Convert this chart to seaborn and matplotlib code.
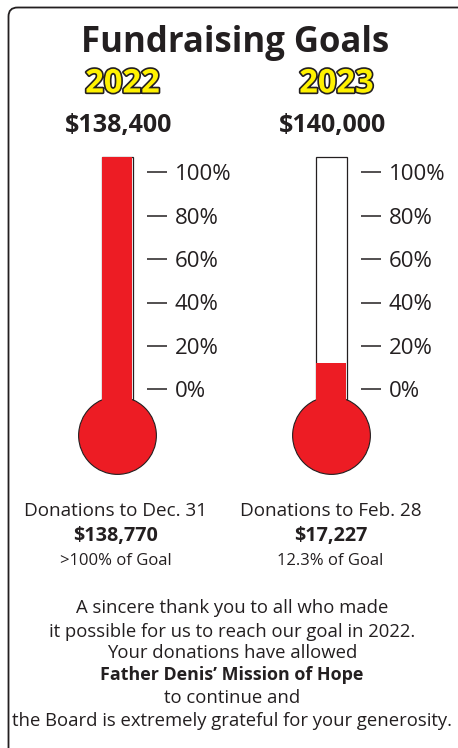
"""
Fundraising goals thermometer poster (2022 / 2023)
"""

import numpy as np
import matplotlib
matplotlib.use("Agg")
import matplotlib.pyplot as plt
import matplotlib.patheffects as pe
from matplotlib.patches import FancyBboxPatch
import seaborn as sns

# --- data ---
years = ['2022', '2023']
goals = [138400, 140000]
raised = [138770, 17227]
through = ['Dec. 31', 'Feb. 28']
goal_notes = ['>100% of Goal', '12.3% of Goal']
tick_pcts = [0, 20, 40, 60, 80, 100]
message = [
    "A sincere thank you to all who made",
    "it possible for us to reach our goal in 2022.",
    "Your donations have allowed",
    "Father Denis\u2019 Mission of Hope",
    "to continue and",
    "the Board is extremely grateful for your generosity.",
]
bold_lines = [3]

RED = '#ED1C24'
DARK = '#231F20'
YELLOW = '#FFF200'

W, H = 458, 748
sns.set_theme(style='white')
plt.rcParams['font.family'] = ['Open Sans', 'DejaVu Sans']

fig = plt.figure(figsize=(W / 100, H / 100), dpi=100)
bg = fig.add_axes([0, 0, 1, 1])
bg.set_xlim(0, W)
bg.set_ylim(H, 0)
bg.axis('off')

# rounded border (runs off the right/bottom edge)
bg.add_patch(FancyBboxPatch((8.5, 7.5), 460, 760, boxstyle='round,pad=0,rounding_size=9',
                            facecolor='none', edgecolor=DARK, linewidth=1.3))

bg.text(235, 52, 'Fundraising Goals', ha='center', va='baseline',
        fontsize=25, fontweight='bold', color=DARK)

# thermometer geometry (pixels)
px_zero, px_hundred = 389.3, 172.3
px_per_pct = (px_zero - px_hundred) / 100
tube_top, tube_bot = 156.7, 404
y_top = (px_zero - tube_top) / px_per_pct
y_lo = (px_zero - tube_bot) / px_per_pct
bulb_y = (px_zero - 435) / px_per_pct
tube_w = 31.5
ax_w = 45.5
tube_left = [101.5, 315.5]
centers = [l + tube_w / 2 for l in tube_left]

for i, yr in enumerate(years):
    cx = centers[i]
    bg.text(cx + 5, 92.5, yr, ha='center', va='baseline', fontsize=23.5, fontweight='bold',
            color=YELLOW, path_effects=[pe.withStroke(linewidth=2.4, foreground=DARK)])
    bg.text(cx + 1, 132, f"${goals[i]:,}", ha='center', va='baseline',
            fontsize=18, fontweight='bold', color=DARK)

    ax = fig.add_axes([tube_left[i] / W, 1 - tube_bot / H, ax_w / W, (tube_bot - tube_top) / H])
    ax.patch.set_alpha(0)
    pct = raised[i] / goals[i] * 100
    fill = y_top if pct >= 100 else pct

    # glass tube
    ax.bar(0, y_top - y_lo, bottom=y_lo, width=0.8, color='white', edgecolor=DARK,
           linewidth=0.9, zorder=1, clip_on=False)
    # bulb
    ax.plot([0], [bulb_y], marker='o', markersize=56, markerfacecolor=RED,
            markeredgecolor=DARK, markeredgewidth=0.8, clip_on=False, zorder=2)
    # mercury
    sns.barplot(x=[yr], y=[fill], color=RED, saturation=1, width=0.76,
                linewidth=0, ax=ax, zorder=3)
    ax.bar(0, y_lo, width=0.76, color=RED, linewidth=0, zorder=3)

    ax.set_xlim(-0.4, -0.4 + ax_w / (tube_w / 0.8))
    ax.set_ylim(y_lo, y_top)
    ax.set_xlabel('')
    ax.set_ylabel('')
    ax.set_xticks([])
    ax.yaxis.tick_right()
    ax.set_yticks(tick_pcts)
    ax.set_yticklabels([f"{t}%" for t in tick_pcts])
    ax.tick_params(axis='y', direction='out', length=14.4, width=1.1, pad=5.5,
                   labelsize=16, color=DARK, labelcolor=DARK)
    for s in ax.spines.values():
        s.set_visible(False)

    # donations summary
    tx = [116, 330.5][i]
    bg.text(tx, 516.5, f"Donations to {through[i]}", ha='center', va='baseline',
            fontsize=13.6, color=DARK)
    bg.text(tx, 541.5, f"${raised[i]:,}", ha='center', va='baseline',
            fontsize=14.2, fontweight='bold', color=DARK)
    bg.text(tx, 565, goal_notes[i], ha='center', va='baseline', fontsize=12, color=DARK)

baselines = [613.3, 636.7, 658.3, 680, 702.7, 726]
for j, line in enumerate(message):
    bold = j in bold_lines
    bg.text(232, baselines[j], line, ha='center', va='baseline',
            fontsize=12.9 if bold else 13.3,
            fontweight='bold' if bold else 'normal', color=DARK)

fig.savefig('out.png', dpi=100)
